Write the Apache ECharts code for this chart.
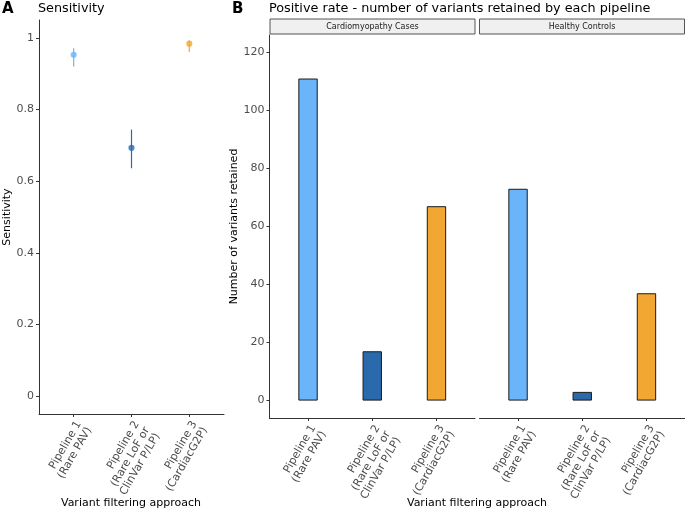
<!DOCTYPE html>
<html><head><meta charset="utf-8">
<script src="https://cdn.jsdelivr.net/npm/echarts@6/dist/echarts.min.js"></script>
<style>html,body{margin:0;padding:0;background:#fff}#c{width:685px;height:511px}</style>
</head><body><div id="c"></div>
<script>
const pipelines = ['Pipeline 1\n(Rare PAV)', 'Pipeline 2\n(Rare LoF or\nClinVar P/LP)', 'Pipeline 3\n(CardiacG2P)'];
const pipelineColors = ['#6ab4fa', '#2a6aac', '#f2a732'];
const sensitivity = [0.953, 0.693, 0.984];
const sensLow = [0.920, 0.636, 0.961];
const sensHigh = [0.971, 0.744, 0.993];
const facets = ['Cardiomyopathy Cases', 'Healthy Controls'];
const casesCounts = [111, 17, 67];
const controlCounts = [73, 3, 37];
const sensTicks = [0, 0.2, 0.4, 0.6, 0.8, 1];
const countTicks = [0, 20, 40, 60, 80, 100, 120];
const catPos = [1, 2, 3];

const FONT = 'DejaVu Sans';
const chart = echarts.init(document.getElementById('c'), null, {renderer: 'canvas'});

function xAxisDef(gridIndex) {
  return {
    type: 'value', gridIndex, min: 0.4, max: 3.6,
    splitLine: {show: false},
    axisLine: {show: true, onZero: false, lineStyle: {color: '#333', width: 1}},
    axisTick: {show: true, length: 3, customValues: catPos, lineStyle: {color: '#333'}},
    axisLabel: {
      customValues: catPos, rotate: 60, margin: 5,
      fontFamily: FONT, fontSize: 11, color: '#4d4d4d', lineHeight: 12,
      align: 'right', verticalAlign: 'top',
      formatter: v => pipelines[Math.round(v) - 1]
    }
  };
}

const bars = (data, xi, yi) => ({
  type: 'bar', xAxisIndex: xi, yAxisIndex: yi, barWidth: 19.4,
  data: data.map((v, i) => ({value: [catPos[i], v], itemStyle: {color: pipelineColors[i]}})),
  itemStyle: {borderColor: '#1a1a1a', borderWidth: 1}
});

function yAxisDef(gridIndex, min, max, ticks, name, gap) {
  return {
    type: 'value', gridIndex, min, max,
    name, nameLocation: 'middle', nameRotate: 90, nameGap: gap,
    nameTextStyle: {fontFamily: FONT, fontSize: 11, color: '#000'},
    splitLine: {show: false},
    axisLine: {show: true, onZero: false, lineStyle: {color: '#333'}},
    axisTick: {show: true, length: 3, customValues: ticks, lineStyle: {color: '#333'}},
    axisLabel: {customValues: ticks, margin: 5, fontFamily: FONT, fontSize: 11, color: '#4d4d4d'}
  };
}

const option = {
  backgroundColor: '#fff',
  animation: false,
  textStyle: {fontFamily: FONT},
  grid: [
    {left: 39, top: 20, width: 185, height: 394},
    {left: 269.5, top: 35, width: 205.5, height: 383},
    {left: 479.5, top: 35, width: 205.5, height: 383}
  ],
  xAxis: [xAxisDef(0), xAxisDef(1), xAxisDef(2)],
  yAxis: [
    yAxisDef(0, -0.05, 1.05, sensTicks, 'Sensitivity', 25),
    yAxisDef(1, -6, 126, countTicks, 'Number of variants retained', 26),
    {type: 'value', gridIndex: 2, min: -6, max: 126, show: false, splitLine: {show: false}}
  ],
  series: [
    {
      type: 'custom', xAxisIndex: 0, yAxisIndex: 0, z: 1,
      data: sensLow.map((lo, i) => [catPos[i], lo, sensHigh[i]]),
      renderItem: (params, api) => {
        const a = api.coord([api.value(0), api.value(1)]);
        const b = api.coord([api.value(0), api.value(2)]);
        return {type: 'line', shape: {x1: a[0], y1: a[1], x2: b[0], y2: b[1]},
                style: {stroke: pipelineColors[params.dataIndex], lineWidth: 1.2}};
      }
    },
    {
      type: 'scatter', xAxisIndex: 0, yAxisIndex: 0, z: 2, symbolSize: 6.2,
      data: sensitivity.map((v, i) => ({value: [catPos[i], v], itemStyle: {color: pipelineColors[i]}}))
    },
    bars(casesCounts, 1, 1),
    bars(controlCounts, 2, 2)
  ],
  graphic: [
    {type: 'text', left: 2, top: 2, style: {text: 'A', font: 'bold 15px "DejaVu Sans"', fill: '#000'}},
    {type: 'text', left: 38, top: 2, style: {text: 'Sensitivity', font: '12.8px "DejaVu Sans"', fill: '#000'}},
    {type: 'text', left: 232, top: 2, style: {text: 'B', font: 'bold 15px "DejaVu Sans"', fill: '#000'}},
    {type: 'text', left: 269, top: 2, style: {text: 'Positive rate - number of variants retained by each pipeline', font: '12.8px "DejaVu Sans"', fill: '#000'}},
    {type: 'rect', shape: {x: 270, y: 19, width: 205, height: 15}, style: {fill: '#f0f0f0', stroke: '#555', lineWidth: 1}},
    {type: 'rect', shape: {x: 479.5, y: 19, width: 205, height: 15}, style: {fill: '#f0f0f0', stroke: '#555', lineWidth: 1}},
    {type: 'text', x: 372.5, y: 26.5, style: {text: facets[0], font: '8px "DejaVu Sans"', fill: '#1a1a1a', align: 'center', verticalAlign: 'middle'}},
    {type: 'text', x: 582, y: 26.5, style: {text: facets[1], font: '8px "DejaVu Sans"', fill: '#1a1a1a', align: 'center', verticalAlign: 'middle'}},
    {type: 'text', x: 131, y: 503, style: {text: 'Variant filtering approach', font: '11px "DejaVu Sans"', fill: '#000', align: 'center', verticalAlign: 'middle'}},
    {type: 'text', x: 477, y: 503, style: {text: 'Variant filtering approach', font: '11px "DejaVu Sans"', fill: '#000', align: 'center', verticalAlign: 'middle'}}
  ]
};
chart.setOption(option);
</script></body></html>
